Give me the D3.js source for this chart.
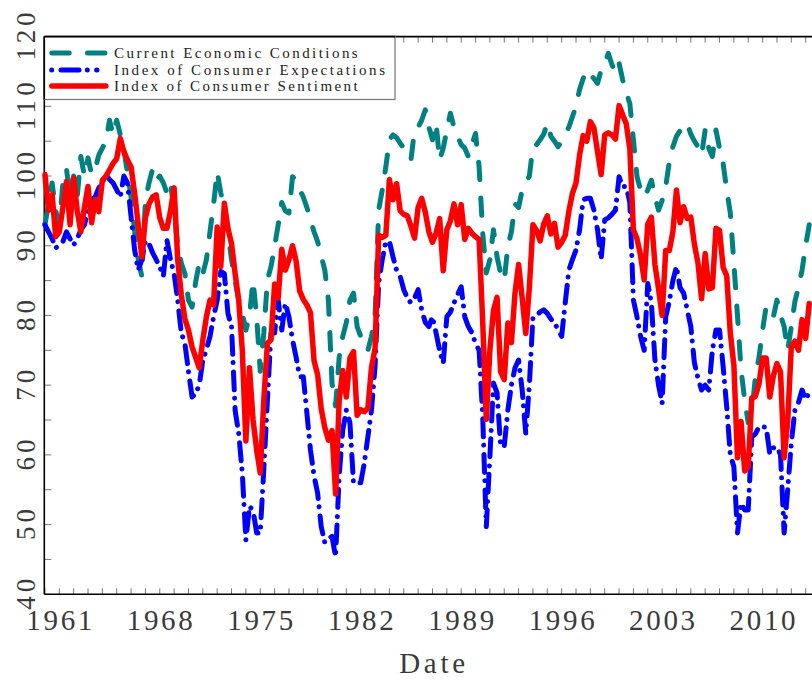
<!DOCTYPE html>
<html>
<head>
<meta charset="utf-8">
<script src="https://cdn.jsdelivr.net/npm/d3@7/dist/d3.min.js"></script>
<style>
  body { margin: 0; background: #fff; }
  svg { display: block; }
</style>
</head>
<body>
<svg id="chart" width="812" height="682"></svg>
<script>
// Quarterly survey readings, first value = 1960 Q1, one value per quarter.
const startYear = 1960;

const sentiment = [
  100.2, 95.1, 97.3, 91.3,   92.0, 95.5, 99.2, 93.0,   99.7, 95.0, 92.0, 95.5,
  98.5, 93.3, 96.6, 94.9,    99.4, 100.0, 100.9, 101.8, 102.5, 105.4, 103.5, 102.3,
  101.3, 97.5, 93.0, 88.4,   94.0, 96.0, 97.0, 97.3,   94.0, 92.5, 92.5, 95.0,
  98.3, 88.0, 83.0, 79.5,    77.9, 75.5, 74.0, 72.5,   76.5, 79.8, 82.2, 81.5,
  92.7, 87.0, 96.1, 92.5,    90.3, 86.0, 82.2, 75.0,   62.0, 72.5, 65.0, 60.7,
  57.4, 67.9, 76.0, 76.5,    84.5, 82.5, 89.5, 86.5,   88.0, 90.0, 87.8, 83.5,
  82.3, 81.5, 80.4, 73.5,    71.5, 66.6, 63.9, 62.1,   63.5, 54.4, 67.8, 72.1,
  68.3, 73.9, 74.8, 65.7,    66.5, 66.2, 66.7, 72.5,   75.3, 91.5, 91.2, 91.5,
  99.5, 96.6, 98.9, 95.0,    94.5, 94.3, 92.8, 91.1,   95.5, 96.8, 94.8, 92.0,
  90.5, 91.8, 93.9, 86.4,    92.3, 93.6, 96.0, 93.0,   95.9, 90.9, 92.5, 91.8,
  91.3, 90.9, 79.1, 65.1,    75.0, 80.7, 82.6, 71.9,   70.8, 78.9, 76.1, 83.2,
  87.3, 82.5, 77.4, 84.0,    93.0, 92.2, 90.7, 93.1,   94.3, 91.7, 93.2, 89.8,
  90.5, 91.5, 94.9, 97.5,    99.0, 103.0, 105.8, 105.0, 107.8, 106.9, 103.5, 100.2,
  105.9, 106.2, 105.9, 105.3, 110.1, 108.8, 107.5, 103.9, 92.3, 91.0, 88.6, 85.1,
  93.1, 94.1, 87.3, 83.8,    80.0, 89.3, 89.3, 92.0,   98.0, 93.3, 95.6, 93.9,
  94.1, 90.2, 87.5, 82.4,    88.9, 83.8, 84.0, 92.5,   92.2, 86.9, 85.7, 77.5,
  72.9, 59.6, 64.8, 57.7,    58.3, 68.2, 68.4, 70.2,   73.9, 73.9, 68.3, 71.3,
  73.1, 71.9, 59.6, 64.8,    75.5, 76.3, 75.0, 79.4,   76.7, 81.7
];

const expectations = [
  93.0, 92.0, 91.0, 89.7,    90.0, 90.6, 92.0, 91.0,   90.1, 91.0, 92.3, 93.0,
  95.1, 96.6, 97.0, 98.3,    99.0, 100.2, 99.5, 99.0,  98.0, 97.0, 100.0, 99.0,
  94.2, 89.4, 86.5, 88.0,    90.8, 90.3, 89.0, 88.0,   87.0, 85.6, 90.8, 88.0,
  86.0, 82.2, 77.5, 76.0,    72.0, 68.3, 68.8, 70.0,   73.6, 75.1, 77.0, 79.8,
  82.2, 86.3, 86.0, 80.3,    78.4, 66.4, 63.1, 57.4,   47.8, 52.6, 52.0, 48.8,
  48.8, 58.0, 67.9, 77.5,    77.5, 82.2, 77.9, 81.8,   79.8, 76.5, 74.0, 71.2,
  71.2, 66.0, 60.7, 57.0,    54.5, 49.7, 47.4, 48.0,   48.3, 45.4, 57.0, 63.6,
  66.4, 64.6, 55.9, 56.0,    56.0, 58.8, 62.6, 66.4,   72.7, 84.6, 88.0, 90.6,
  90.6, 88.4, 86.5, 85.6,    83.7, 82.5, 81.8, 82.5,   83.7, 80.8, 79.0, 78.4,
  79.8, 77.5, 75.0, 73.1,    79.8, 80.5, 81.8, 83.0,   84.1, 79.8, 78.4, 77.5,
  76.0, 75.0, 65.5, 49.7,    59.7, 70.3, 68.9, 61.2,   61.2, 66.4, 70.0, 72.5,
  73.6, 69.3, 63.1, 70.0,    79.8, 80.0, 80.5, 80.8,   80.3, 79.5, 78.9, 78.0,
  77.0, 81.8, 86.5, 88.0,    89.4, 92.3, 96.6, 96.8,   96.8, 95.1, 92.3, 88.0,
  93.7, 94.0, 94.5, 95.1,    99.9, 98.5, 98.5, 96.2,   82.2, 79.8, 77.0, 75.0,
  84.6, 81.8, 73.6, 70.0,    67.4, 79.8, 82.0, 85.0,   87.0, 84.0, 83.2, 80.8,
  78.4, 73.2, 71.0, 69.3,    70.0, 69.3, 75.0, 77.9,   77.9, 72.7, 66.9, 60.0,
  58.3, 48.8, 53.1, 52.1,    52.1, 62.6, 63.0, 64.0,   64.0, 64.0, 60.2, 61.0,
  61.2, 60.0, 48.8, 55.0,    61.7, 66.4, 67.5, 69.3,   68.0, 68.9
];

const conditions = [
  93.0, 96.0, 99.0, 95.0,    93.0, 99.0, 101.0, 97.0,  100.0, 97.0, 102.8, 100.0,
  102.6, 100.2, 101.0, 103.0, 104.0, 105.0, 108.0, 105.9, 108.0, 105.9, 103.8, 100.4,
  97.0, 92.0, 88.0, 85.6,    96.6, 99.0, 101.0, 99.4,  100.0, 99.0, 97.6, 99.0,
  95.0, 90.0, 87.5, 86.0,    82.2, 81.2, 84.8, 87.5,   86.0, 88.0, 92.0, 96.0,
  100.6, 97.6, 95.4, 92.0,   88.0, 85.0, 82.2, 80.3,   77.9, 80.0, 85.0, 79.8,
  72.0, 77.5, 85.1, 87.0,    89.9, 93.0, 96.2, 95.0,   94.7, 99.9, 99.4, 98.0,
  97.0, 95.5, 93.7, 92.0,    90.6, 88.5, 86.5, 82.2,   70.3, 67.0, 74.0, 77.0,
  79.0, 82.2, 83.2, 78.4,    77.0, 76.5, 75.0, 77.0,   79.8, 95.1, 98.0, 101.3,
  105.2, 105.9, 105.5, 104.7, 104.0, 103.0, 102.3, 106.6, 107.0, 108.0, 109.5, 107.0,
  105.2, 107.6, 102.3, 104.0, 106.6, 109.0, 107.0, 105.7, 104.5, 104.0, 102.8, 104.5,
  106.1, 101.3, 91.8, 86.1,  88.0, 92.3, 88.4, 86.0,   85.0, 89.9, 92.0, 96.0,
  95.5, 98.0, 99.0, 100.0,   104.2, 104.5, 105.2, 106.0, 107.6, 105.7, 105.0, 104.2,
  105.0, 106.0, 107.0, 108.5, 110.0, 112.4, 114.0, 115.2, 114.5, 114.0, 113.3, 115.2,
  116.0, 117.6, 116.0, 114.8, 116.2, 113.8, 112.0, 110.4, 105.2, 99.9, 98.0, 97.0,
  98.0, 99.4, 97.0, 95.1,    96.5, 98.5, 102.0, 104.2, 105.7, 106.5, 107.0, 107.6,
  106.0, 105.0, 104.2, 103.0, 106.6, 104.0, 102.8, 106.6, 104.0, 101.8, 98.0, 94.7,
  87.5, 80.0, 72.2, 67.9,    64.6, 66.0, 71.2, 74.0,   77.9, 81.3, 80.5, 79.8,
  82.2, 80.0, 78.4, 75.0,    78.4, 82.0, 84.0, 86.5,   90.0, 93.0
];

const yearLabels = [1961, 1968, 1975, 1982, 1989, 1996, 2003, 2010];
const valueLabels = [40, 50, 60, 70, 80, 90, 100, 110, 120];

const seriesNames = [
  "Current Economic Conditions",
  "Index of Consumer Expectations",
  "Index of Consumer Sentiment"
];

// ---- layout ----
const svg = d3.select("#chart");
const plotL = 44.3, plotR = 820, plotT = 36.6, plotB = 594.3;

const x = d3.scaleLinear().domain([1959.955, 2014.0]).range([plotL, plotR]);
const y = d3.scaleLinear().domain([40, 120]).range([plotB, plotT]);

const labelFont = "'Liberation Serif', 'DejaVu Serif', serif";
const tickColor = "#777";

// inward ticks: every year along top and bottom, every 5 units on the left
const yearTicks = d3.range(1960, 2015);
const g = svg.append("g");

g.selectAll(".xb").data(yearTicks).join("line")
  .attr("x1", d => x(d)).attr("x2", d => x(d))
  .attr("y1", plotB).attr("y2", plotB - 6)
  .attr("stroke", tickColor).attr("stroke-width", 1);
g.selectAll(".xt").data(yearTicks).join("line")
  .attr("x1", d => x(d)).attr("x2", d => x(d))
  .attr("y1", plotT).attr("y2", plotT + 6)
  .attr("stroke", tickColor).attr("stroke-width", 1);
g.selectAll(".yl").data(d3.range(40, 121, 5)).join("line")
  .attr("x1", plotL).attr("x2", plotL + 7)
  .attr("y1", d => y(d)).attr("y2", d => y(d))
  .attr("stroke", tickColor).attr("stroke-width", 1);

// frame lines
g.append("line").attr("x1", plotL).attr("x2", plotL).attr("y1", plotT).attr("y2", plotB)
  .attr("stroke", "#000").attr("stroke-width", 1.6);
g.append("line").attr("x1", plotL).attr("x2", 812).attr("y1", plotB).attr("y2", plotB)
  .attr("stroke", "#000").attr("stroke-width", 1.6);
g.append("line").attr("x1", plotL).attr("x2", 812).attr("y1", plotT).attr("y2", plotT)
  .attr("stroke", "#000").attr("stroke-width", 1.6);

// tick labels
g.selectAll(".xlab").data(yearLabels).join("text")
  .attr("x", d => x(d)).attr("y", 630)
  .attr("text-anchor", "middle")
  .attr("font-family", labelFont).attr("font-size", 29)
  .attr("fill", "#3a3a3a")
  .attr("textLength", 66).attr("lengthAdjust", "spacing")
  .text(d => d);

g.selectAll(".ylab").data(valueLabels).join("text")
  .attr("transform", d => `translate(35,${y(d)}) rotate(-90)`)
  .attr("text-anchor", "middle")
  .attr("font-family", labelFont).attr("font-size", 27)
  .attr("fill", "#3a3a3a")
  .attr("textLength", d => String(d).length * 17 - 3).attr("lengthAdjust", "spacing")
  .text(d => d);

svg.append("text")
  .attr("x", (plotL + plotR) / 2).attr("y", 673)
  .attr("text-anchor", "middle")
  .attr("font-family", labelFont).attr("font-size", 29)
  .attr("fill", "#3a3a3a")
  .attr("textLength", 66).attr("lengthAdjust", "spacing")
  .text("Date");

// ---- series ----
const line = d3.line()
  .x((d, i) => x(startYear + i * 0.25))
  .y(d => y(d));

const styles = [
  { data: conditions,   color: "#008080", width: 5,   dash: "17.4,18.3" },
  { data: expectations, color: "#0000ff", width: 5,   dash: "18,8.3,0.001,9.3" },
  { data: sentiment,    color: "#ff0000", width: 5.5, dash: null }
];

const plot = svg.append("g");
styles.forEach(s => {
  plot.append("path")
    .datum(s.data)
    .attr("d", line)
    .attr("fill", "none")
    .attr("stroke", s.color)
    .attr("stroke-width", s.width)
    .attr("stroke-linejoin", "round")
    .attr("stroke-linecap", "round")
    .attr("stroke-dasharray", s.dash);
});

// ---- legend ----
const legend = svg.append("g");
legend.append("rect")
  .attr("x", plotL).attr("y", plotT)
  .attr("width", 395 - plotL).attr("height", 99.5 - plotT)
  .attr("fill", "#fff").attr("stroke", "#777").attr("stroke-width", 1.2);
legend.append("line").attr("x1", plotL).attr("x2", 395).attr("y1", plotT).attr("y2", plotT)
  .attr("stroke", "#000").attr("stroke-width", 1.6);
legend.append("line").attr("x1", plotL).attr("x2", plotL).attr("y1", plotT).attr("y2", 99.5)
  .attr("stroke", "#000").attr("stroke-width", 1.6);

const rows = [53, 70, 86];
const sampleEnds = [[51.8, 105.5], [51.7, 97], [51.8, 105.8]];
const legendDash = ["17.4,18.3", "0.001,9.3,18,8.3", null];
seriesNames.forEach((name, i) => {
  legend.append("line")
    .attr("x1", sampleEnds[i][0]).attr("x2", sampleEnds[i][1])
    .attr("y1", rows[i]).attr("y2", rows[i])
    .attr("stroke", styles[i].color).attr("stroke-width", styles[i].width)
    .attr("stroke-linecap", "round")
    .attr("stroke-dasharray", legendDash[i]);
  legend.append("text")
    .attr("x", 114).attr("y", rows[i] + 5)
    .attr("font-family", labelFont).attr("font-size", 15)
    .attr("fill", "#222")
    .attr("textLength", name.length * 9.1 - 2).attr("lengthAdjust", "spacing")
    .text(name);
});
</script>
</body>
</html>
